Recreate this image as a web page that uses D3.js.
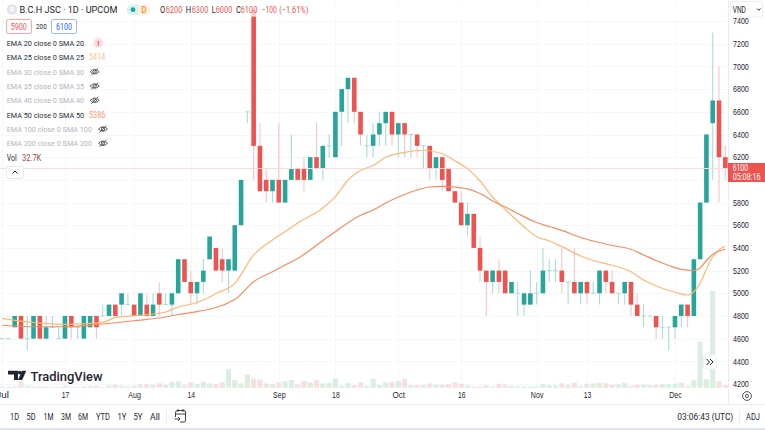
<!DOCTYPE html>
<html><head><meta charset="utf-8">
<script src="https://cdn.jsdelivr.net/npm/d3@7"></script>
<style>
html,body{margin:0;padding:0;background:#fff;overflow:hidden}
svg{display:block;font-family:Roboto,"Noto Sans",sans-serif}
</style></head><body><svg id="c" width="765" height="430"></svg>
<script>
// ---------- data ----------
const opens=[4600,4600,4700,4800,4600,4600,4800,4600,4700,4600,4600,4800,4700,4600,4700,4800,4800,4800,4900,4900,4900,4900,4800,4900,4800,5000,4900,4900,5000,5300,5100,5000,5100,5300,5400,5300,5200,5200,5600,6600,7500,6300,6000,5900,6000,5800,6000,6100,6100,6000,6200,6100,6300,6200,6600,6800,6900,6600,6300,6300,6400,6500,6600,6400,6500,6400,6400,6300,6300,6100,6200,6100,5900,5800,5600,5700,5400,5200,5100,5200,5200,5000,5000,4900,4900,5000,5000,5200,5200,5200,5100,5100,5000,5100,5000,5000,5200,5100,5000,5000,5100,4900,4800,4800,4800,4700,4700,4700,4800,4900,4800,5300,5800,6500,6700,6200];
const highs=[4600,4600,4800,4800,4800,4800,4800,4800,4800,4700,4800,4800,4700,4800,4800,4800,4900,4900,4900,5000,5000,4900,5000,5000,5000,5100,5000,5000,5300,5300,5200,5100,5300,5500,5400,5400,5300,5600,6000,6600,7500,6500,6100,6000,6500,6000,6400,6100,6200,6200,6500,6300,6400,6600,6800,6900,6900,6600,6400,6500,6600,6600,6600,6500,6500,6400,6400,6300,6300,6200,6200,6100,5900,5900,5800,5700,5500,5200,5200,5300,5200,5100,5100,5000,5200,5100,5400,5300,5300,5400,5100,5400,5100,5100,5100,5200,5200,5200,5000,5100,5100,5000,4900,4800,4800,4800,4700,4800,4900,4900,5300,5800,6400,7300,7000,6300];
const lows=[4600,4600,4700,4600,4500,4600,4600,4600,4700,4600,4600,4600,4600,4600,4700,4600,4800,4800,4800,4800,4900,4800,4800,4800,4800,4800,4900,4800,5000,5100,4900,4900,5000,5300,5200,5100,5000,5200,5600,6500,6000,5900,5800,5800,5800,5800,6000,6000,5900,6000,6100,6000,6200,6200,6300,6500,6500,6300,6200,6200,6300,6300,6300,6200,6200,6200,6200,6100,6000,6000,5900,5900,5800,5600,5500,5400,5100,4800,5000,5000,5000,5000,4800,4800,4900,4900,5000,5100,5100,5000,4900,5000,4900,4900,5000,4900,5000,5000,4900,4900,4800,4800,4700,4800,4600,4600,4500,4600,4700,4700,4800,5300,5800,6000,5800,6000];
const closes=[4600,4600,4800,4600,4600,4800,4600,4700,4700,4600,4800,4700,4700,4800,4800,4700,4800,4900,4800,5000,4900,4800,5000,4800,4900,4900,4900,5000,5300,5100,5000,5100,5200,5500,5200,5200,5300,5600,6000,6600,6300,5900,5900,6000,5800,6000,6100,6000,6000,6200,6100,6300,6300,6600,6800,6900,6600,6400,6300,6400,6500,6600,6400,6500,6400,6400,6300,6300,6100,6200,6000,5900,5800,5600,5700,5400,5200,5100,5200,5100,5000,5100,5000,5000,5000,5000,5200,5200,5200,5100,5100,5000,5100,5000,5000,5200,5100,5000,5000,5100,4900,4800,4800,4800,4700,4700,4700,4800,4900,4800,5300,5800,6400,6700,6200,6100];
const volumesK=[12,12,18,84,24,18,16,18,12,12,24,16,12,18,24,24,12,30,36,24,18,24,42,48,36,54,36,72,78,30,66,48,72,54,48,66,228,92,52,160,112,100,52,44,64,80,92,40,80,64,92,52,60,112,24,56,32,64,24,108,32,64,72,80,108,30,30,32,52,36,36,42,64,48,30,18,18,30,18,48,36,24,18,18,18,18,48,30,30,54,36,60,18,48,54,60,54,36,42,60,24,36,36,36,36,42,42,48,60,24,92,555,104,1165,80,32.7];
const ema25Idx=[0,4,10,16,18,22,26,28,30,32,34,37,40,43,45,47,51,53,55,57,59,61,64,67,70,72,74,76,78,80,83,85,87,89,92,94,96,100,102,104,107,109,110,111,112,113,114,115];
const ema25Val=[4779,4747,4726,4744,4786,4806,4835,4879,4903,4941,4998,5088,5338,5470,5543,5620,5752,5852,5999,6083,6127,6199,6243,6261,6230,6169,6099,5990,5849,5739,5587,5499,5461,5411,5329,5289,5261,5189,5117,5064,5009,4985,5014,5088,5214,5320,5382,5414];
const ema50Idx=[0,5,10,16,21,26,28,30,37,40,43,45,47,52,57,59,61,63,66,68,70,72,74,76,78,80,82,85,87,89,92,94,97,100,102,104,106,108,110,111,112,113,114,115];
const ema50Val=[4718,4705,4705,4729,4758,4791,4813,4829,4945,5102,5190,5249,5307,5505,5688,5734,5796,5849,5911,5937,5943,5937,5920,5880,5814,5761,5703,5624,5589,5555,5492,5461,5421,5388,5338,5289,5245,5211,5201,5223,5289,5342,5373,5386];
const priceTicks=[4200,4400,4600,4800,5000,5200,5400,5600,5800,6000,6200,6400,6600,6800,7000,7200,7400];
const timeTickIdx=[0,10,21,30,44,53,63,73,85,93,107];
const timeTickLabels=["Jul","17","Aug","14","Sep","18","Oct","16","Nov","13","Dec"];
const legendLabels=["EMA 20 close 0 SMA 20","EMA 25 close 0 SMA 25","EMA 30 close 0 SMA 30","EMA 35 close 0 SMA 35","EMA 40 close 0 SMA 40","EMA 50 close 0 SMA 50","EMA 100 close 0 SMA 100","EMA 200 close 0 SMA 200"];
const ranges=["1D","5D","1M","3M","6M","YTD","1Y","5Y","All"];

// ---------- style ----------
const UP="#26a69a",DN="#ef5350",UPW="#a9dcd7",DNW="#f9c3c2",TXT="#1f2430",GRID="#f6f7f9",BORDER="#e9ecf1";
const C25="#ffb874",C50="#fb8a5e";
const plotR=728.5,plotB=404;

const svg=d3.select("#c");
const x=d3.scaleLinear().domain([0,115]).range([2.1,725.3]);
const y=d3.scaleLinear().domain([4200,7400]).range([384,21.1]);
const v=d3.scaleLinear().domain([0,1165]).range([387.8,290.8]);
const idx=d3.range(opens.length);

svg.append("defs").append("clipPath").attr("id","pl").append("rect").attr("x",0).attr("y",0).attr("width",plotR).attr("height",plotB);
const pane=svg.append("g").attr("clip-path","url(#pl)");

// grid
pane.append("g").selectAll("line").data(priceTicks).join("line")
 .attr("x1",0).attr("x2",plotR).attr("y1",d=>Math.round(y(d))+.5).attr("y2",d=>Math.round(y(d))+.5).attr("stroke",GRID);
pane.append("g").selectAll("line").data(timeTickIdx).join("line")
 .attr("y1",0).attr("y2",388).attr("x1",d=>Math.round(x(d))+.5).attr("x2",d=>Math.round(x(d))+.5).attr("stroke",GRID);

// volume
pane.append("g").selectAll("rect").data(idx).join("rect")
 .attr("x",i=>x(i)-2.6).attr("width",5.2)
 .attr("y",i=>v(volumesK[i])).attr("height",i=>v(0)-v(volumesK[i]))
 .attr("fill",i=>closes[i]<opens[i]?"#f6e1e2":"#dceee1");

// wicks
pane.append("g").selectAll("line").data(idx).join("line")
 .attr("x1",i=>x(i)).attr("x2",i=>x(i)).attr("y1",i=>y(highs[i])).attr("y2",i=>y(lows[i]))
 .attr("stroke",i=>closes[i]<opens[i]?DNW:UPW).attr("stroke-width",1.1);
// doji ticks
pane.append("g").selectAll("line").data(idx.filter(i=>opens[i]===closes[i])).join("line")
 .attr("x1",i=>x(i)-2.3).attr("x2",i=>x(i)+2.3).attr("y1",i=>y(opens[i])).attr("y2",i=>y(closes[i]))
 .attr("stroke",UPW).attr("stroke-width",1.1);
// bodies
pane.append("g").selectAll("rect").data(idx.filter(i=>opens[i]!==closes[i])).join("rect")
 .attr("x",i=>x(i)-2.3).attr("width",4.6)
 .attr("y",i=>y(Math.max(opens[i],closes[i])))
 .attr("height",i=>Math.abs(y(opens[i])-y(closes[i])))
 .attr("fill",i=>closes[i]<opens[i]?DN:UP);

// last price line
pane.append("line").attr("x1",0).attr("x2",plotR).attr("y1",y(6100)).attr("y2",y(6100)).attr("stroke","#fbdcdb").attr("stroke-width",1);

// EMA lines
const ln=d3.line().x(d=>x(d[0])).y(d=>y(d[1])).curve(d3.curveMonotoneX);
pane.append("path").datum(d3.zip(ema25Idx,ema25Val)).attr("d",ln).attr("fill","none").attr("stroke",C25).attr("stroke-width",1.2);
pane.append("path").datum(d3.zip(ema50Idx,ema50Val)).attr("d",ln).attr("fill","none").attr("stroke",C50).attr("stroke-width",1.2);

// header veil (hides top of the tall candle)
svg.append("rect").attr("x",0).attr("y",3).attr("width",plotR).attr("height",13.7).attr("fill","#fff").attr("fill-opacity",.72);

function fit(sel,len){return sel.attr("textLength",len).attr("lengthAdjust","spacingAndGlyphs");}

// price axis
svg.append("line").attr("x1",plotR).attr("x2",plotR).attr("y1",0).attr("y2",404).attr("stroke",BORDER);
const pa=svg.append("g").attr("transform",`translate(${plotR},0)`)
 .call(d3.axisRight(y).tickValues(priceTicks.filter(d=>d!==6000)).tickFormat(d3.format("d")).tickSize(0).tickPadding(4.5));
pa.select(".domain").remove();
pa.selectAll("text").attr("font-family","inherit").attr("font-size",8.4).attr("fill",TXT).call(fit,15.8);

// time axis
const ta=svg.append("g").attr("transform","translate(0,390.5)")
 .call(d3.axisBottom(x).tickValues(timeTickIdx).tickFormat((d,i)=>timeTickLabels[i]).tickSize(0).tickPadding(2));
ta.select(".domain").remove();
ta.selectAll("text").attr("font-family","inherit").attr("font-size",8.4).attr("fill",TXT)
 .each(function(d,i){fit(d3.select(this),timeTickLabels[i].length===2?7.6:12.6);});
svg.append("line").attr("x1",0).attr("x2",765).attr("y1",404.5).attr("y2",404.5).attr("stroke",BORDER);
svg.append("rect").attr("x",0).attr("y",428).attr("width",765).attr("height",2).attr("fill","#e0e3eb");

function T(px,py,s,len,o={}){const t=svg.append("text").attr("x",px).attr("y",py).text(s)
 .attr("font-size",o.size||8.4).attr("fill",o.fill||TXT).attr("text-anchor",o.anchor||"start").attr("font-weight",o.weight||400);
 if(len) fit(t,len); return t;}

// last price tag
svg.append("rect").attr("x",728).attr("y",163).attr("width",37).attr("height",19).attr("fill",DN);
T(732.7,171.3,"6100",15.3,{fill:"#fff"}); T(732.7,179.8,"05:08:16",28,{fill:"#fff"});

// top right currency
svg.append("rect").attr("x",730.5).attr("y",1.5).attr("width",32).attr("height",15.5).attr("rx",2).attr("fill","#fff").attr("stroke","#eceff3");
T(732.7,12.8,"VND",13.2,{size:8.4});
svg.append("path").attr("d","M757 8.5l1.8 1.8 1.8-1.8").attr("fill","none").attr("stroke",TXT);

// title
svg.append("circle").attr("cx",12).attr("cy",9.5).attr("r",5.2).attr("fill","#e0e3eb");
T(12,12,"B",null,{size:6.5,anchor:"middle",fill:"#fff",weight:700});
T(19.4,13.3,"B.C.H JSC · 1D · UPCOM",98,{size:9.6});
svg.append("path").attr("d","M132 4.5H138V15H132a5.2 5.2 0 0 1 0-10.5z").attr("fill","#daf1ee");
svg.append("circle").attr("cx",133).attr("cy",9.7).attr("r",2.4).attr("fill",UP);
svg.append("path").attr("d","M138 4.5H145a5.2 5.2 0 0 1 0 10.5H138z").attr("fill","#fff1df");
T(144,12.8,"D",null,{size:8.2,anchor:"middle",fill:"#f7931a",weight:500});
[["O",160,5.2,TXT],["6200",165.7,16.6,DN],["H",185.7,5.4,TXT],["6300",191.7,16.6,DN],["L",211.7,3.8,TXT],["6000",215.7,16.6,DN],["C",236,4.8,TXT],["6100",240.7,16.6,DN],["−100",261.7,15,DN],["(−1.61%)",279.3,29,DN]]
 .forEach(([s,px,len,f])=>T(px,13,s,len,{fill:f,size:8.6}));

// buy / sell boxes
svg.append("rect").attr("x",6.5).attr("y",19.5).attr("width",25).attr("height",14).attr("rx",2).attr("fill","#fff").attr("stroke","#f5a6a5");
T(10.7,29.5,"5900",16,{size:8.6,fill:DN});
T(36,29.3,"200",10.7,{size:7.8});
svg.append("rect").attr("x",51.5).attr("y",19.5).attr("width",25).attr("height",14).attr("rx",2).attr("fill","#fff").attr("stroke","#9db5f5");
T(56,29.5,"6100",16,{size:8.6,fill:"#2962ff"});

// legend
const legendY=[43,57.3,71.7,86,100.3,114.7,129,143.3];
const legendShown=[true,true,false,false,false,true,false,false];
legendLabels.forEach((s,k)=>{
 const ly=legendY[k];
 T(6.7,ly+2.9,s,s.length>21?85.3:77.4,{size:7.8,fill:legendShown[k]?"#2a2e39":"#b2b5be"});
 if(k===0){
  svg.append("circle").attr("cx",98.3).attr("cy",ly).attr("r",5).attr("fill","#fbe0df");
  T(98.3,ly+3,"!",null,{size:8,anchor:"middle",fill:DN,weight:700});
 } else if(!legendShown[k]){
  const ex=k>=6?103:94.7;
  const g=svg.append("g").attr("transform",`translate(${ex},${ly})`).attr("fill","none").attr("stroke","#50535e").attr("stroke-width",.9);
  g.append("path").attr("d","M-4.5 0Q0 -4.5 4.5 0Q0 4.5 -4.5 0z");
  g.append("circle").attr("r",1.7);
  g.append("line").attr("x1",-3.5).attr("y1",3.5).attr("x2",3.5).attr("y2",-3.5);
 }
});
T(89,60.2,"5414",16.3,{fill:"#ffc48c"});
T(89,117.6,"5386",16.3,{fill:"#fd9a75"});
T(6.7,160.6,"Vol",10,{fill:"#2a2e39"});
T(22,160.6,"32.7K",19.3,{fill:"#a24a4a"});
svg.append("rect").attr("x",6.5).attr("y",166.5).attr("width",17).attr("height",12).attr("rx",2).attr("fill","#fff").attr("stroke","#e6e8ee");
svg.append("path").attr("d","M12.5 173.5l2.5-2.5 2.5 2.5").attr("fill","none").attr("stroke",TXT);

// TradingView logo
svg.append("path").attr("d","M8 370.7H18V380H14V374.6H8z").attr("fill",TXT);
svg.append("circle").attr("cx",19.8).attr("cy",372.6).attr("r",1.9).attr("fill",TXT);
svg.append("path").attr("d","M22 370.7H26.2L22.2 380H18z").attr("fill",TXT);
T(30.5,380.5,"TradingView",72,{size:13.6,weight:500});

// jump button
svg.append("rect").attr("x",703.5).attr("y",355).attr("width",13).attr("height",14).attr("rx",2.5).attr("fill","#fff").attr("stroke","#eef0f3");
svg.append("path").attr("d","M706.5 359l3 3-3 3M710 359l3 3-3 3").attr("fill","none").attr("stroke",TXT);

// gear icon
svg.append("circle").attr("cx",747).attr("cy",396).attr("r",4.4).attr("fill","none").attr("stroke","#50535e");
svg.append("circle").attr("cx",747).attr("cy",396).attr("r",1.6).attr("fill","none").attr("stroke","#50535e");

// toolbar
const rangeCenters=[14.5,31,48.5,66,83,103,122,138,155], rangeWidths=[9,9,10,10,10,14,9,9,10];
ranges.forEach((s,k)=>T(rangeCenters[k],419.5,s,rangeWidths[k],{anchor:"middle"}));
svg.append("line").attr("x1",166.5).attr("x2",166.5).attr("y1",410).attr("y2",423).attr("stroke",BORDER);
const cal=svg.append("g").attr("fill","none").attr("stroke","#2a2e39").attr("stroke-width",.9);
cal.append("path").attr("d","M175.5 417v-4.5a2 2 0 0 1 2-2H184a1.5 1.5 0 0 1 1.5 1.5V420.5a1.5 1.5 0 0 1-1.5 1.5H180M175.5 414H185.5M178 409v3M183 409v3");
cal.append("path").attr("d","M174.5 419H180M178 417l2 2-2 2");
T(677.3,419.5,"03:06:43 (UTC)",56);
svg.append("line").attr("x1",739.5).attr("x2",739.5).attr("y1",410).attr("y2",423).attr("stroke",BORDER);
T(746,419.5,"ADJ",14);
</script></body></html>
